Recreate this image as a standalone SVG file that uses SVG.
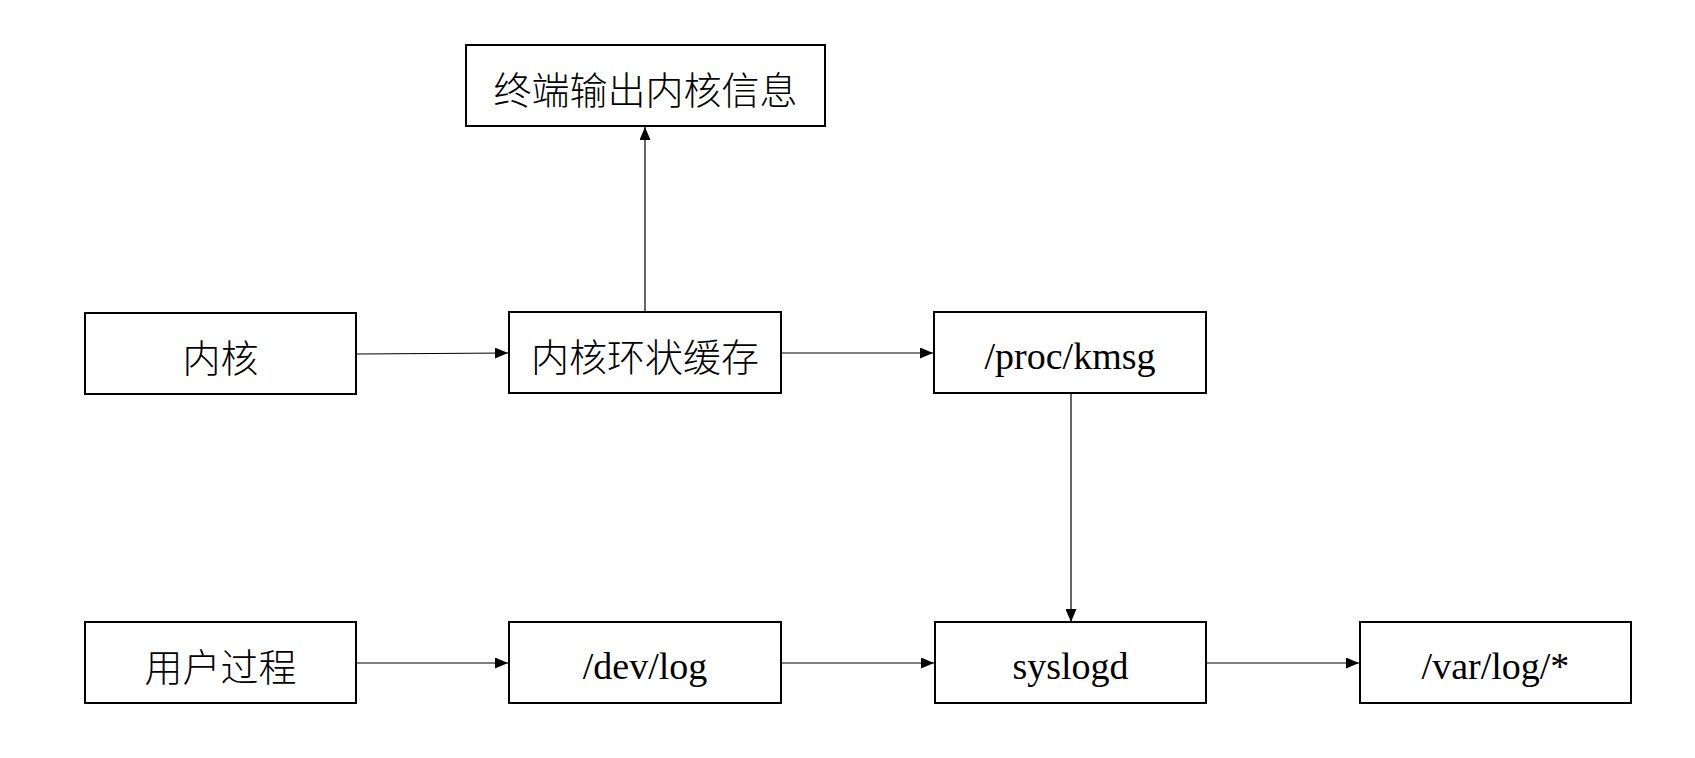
<svg xmlns="http://www.w3.org/2000/svg" width="1695" height="758" viewBox="0 0 1695 758">
<style>
.box{fill:#fff;stroke:#000;stroke-width:2}
.t{font-family:"Liberation Serif","Noto Sans CJK SC",serif;font-size:38px;text-anchor:middle;fill:#000}
.z{font-weight:300}
.c{stroke:#000;stroke-width:1.2;fill:none;marker-end:url(#ah)}
</style>
<defs>
<marker id="ah" viewBox="0 0 13 11" refX="13" refY="5.5" markerWidth="13" markerHeight="11" markerUnits="userSpaceOnUse" orient="auto">
<path d="M0,0 L13,5.5 L0,11 Z" fill="#000"/>
</marker>
</defs>
<rect width="1695" height="758" fill="#fff"/>
<g id="connectors">
<line class="c" x1="645" y1="312" x2="645" y2="127"/>
<line class="c" x1="357" y1="354" x2="508" y2="353"/>
<line class="c" x1="782" y1="353" x2="933" y2="353"/>
<line class="c" x1="1071" y1="394" x2="1071" y2="622"/>
<line class="c" x1="357" y1="663" x2="508" y2="663"/>
<line class="c" x1="782" y1="663" x2="934" y2="663"/>
<line class="c" x1="1206" y1="663" x2="1359" y2="663"/>
</g>
<g id="n_terminal"><rect class="box" x="466" y="45" width="359" height="81"/><text class="t z" x="645.5" y="104">终端输出内核信息</text></g>
<g id="n_kernel"><rect class="box" x="85" y="313" width="271" height="81"/><text class="t z" x="220.5" y="372">内核</text></g>
<g id="n_ringbuf"><rect class="box" x="509" y="312" width="272" height="81"/><text class="t z" x="645" y="371">内核环状缓存</text></g>
<g id="n_kmsg"><rect class="box" x="934" y="312" width="272" height="81"/><text class="t" x="1070" y="369">/proc/kmsg</text></g>
<g id="n_user"><rect class="box" x="85" y="622" width="271" height="81"/><text class="t z" x="220.5" y="681">用户过程</text></g>
<g id="n_devlog"><rect class="box" x="509" y="622" width="272" height="81"/><text class="t" x="645" y="679">/dev/log</text></g>
<g id="n_syslogd"><rect class="box" x="935" y="622" width="271" height="81"/><text class="t" x="1070.5" y="679">syslogd</text></g>
<g id="n_varlog"><rect class="box" x="1360" y="622" width="271" height="81"/><text class="t" x="1495.5" y="679">/var/log/*</text></g>
</svg>
